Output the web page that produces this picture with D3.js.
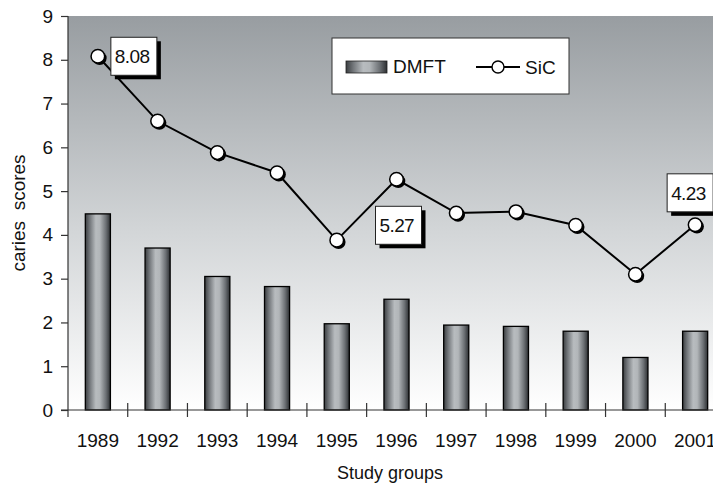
<!DOCTYPE html>
<html>
<head>
<meta charset="utf-8">
<script src="https://cdn.jsdelivr.net/npm/d3@7/dist/d3.min.js"></script>
<style>
  html, body { margin: 0; padding: 0; background: #ffffff; }
  svg { display: block; font-family: "Liberation Sans", Arial, sans-serif; }
</style>
</head>
<body>
<svg id="chart" width="713" height="488"></svg>
<script>
// Caries scores per study group
const years = ["1989", "1992", "1993", "1994", "1995", "1996", "1997", "1998", "1999", "2000", "2001"];
const dmft  = [4.48, 3.70, 3.05, 2.82, 1.97, 2.53, 1.94, 1.91, 1.80, 1.20, 1.80];
const sic   = [8.08, 6.60, 5.88, 5.42, 3.88, 5.27, 4.50, 4.53, 4.22, 3.10, 4.23];
const yTicks = [0, 1, 2, 3, 4, 5, 6, 7, 8, 9];
// Points whose value is written in a callout box
const labelled = ["1989", "1996", "2001"];

const svg = d3.select("#chart");
const plotL = 68, plotT = 16, plotB = 410, plotR = 725;

const x = d3.scaleBand().domain(years).range([plotL, plotR]).padding(0);
const y = d3.scaleLinear().domain([0, 9]).range([plotB, plotT]);

const defs = svg.append("defs");

// Plot background: grey at the top fading to white
const bg = defs.append("linearGradient").attr("id", "bg")
  .attr("x1", 0).attr("y1", 0).attr("x2", 0).attr("y2", 1);
bg.append("stop").attr("offset", "0%").attr("stop-color", "#989da1");
bg.append("stop").attr("offset", "55%").attr("stop-color", "#d3d6d8");
bg.append("stop").attr("offset", "100%").attr("stop-color", "#ffffff");

// Cylinder-like shading for the bars
const barGrad = defs.append("linearGradient").attr("id", "bar")
  .attr("x1", 0).attr("y1", 0).attr("x2", 1).attr("y2", 0);
[["0%", "#3a3d40"], ["18%", "#73777b"], ["42%", "#b8bcbf"], ["58%", "#b2b6b9"], ["82%", "#6d7175"], ["100%", "#2c2f32"]]
  .forEach(([o, c]) => barGrad.append("stop").attr("offset", o).attr("stop-color", c));

svg.append("rect")
  .attr("x", plotL).attr("y", plotT)
  .attr("width", plotR - plotL).attr("height", plotB - plotT)
  .attr("fill", "url(#bg)");

// Bars (DMFT)
const bw = x.bandwidth() * 0.42;
svg.append("g").selectAll("rect")
  .data(years.map((yr, i) => ({ yr, v: dmft[i] })))
  .join("rect")
  .attr("x", d => x(d.yr) + (x.bandwidth() - bw) / 2)
  .attr("y", d => y(d.v))
  .attr("width", bw)
  .attr("height", d => y(0) - y(d.v))
  .attr("fill", "url(#bar)")
  .attr("stroke", "#000")
  .attr("stroke-width", 1.3);

// Y axis
const yAxis = svg.append("g").attr("transform", `translate(${plotL},0)`)
  .call(d3.axisLeft(y).tickValues(yTicks).tickSize(7).tickPadding(8).tickFormat(d3.format("d")));
yAxis.select(".domain").attr("stroke", "#333").attr("stroke-width", 1.2).attr("d", `M0,${plotT}V${plotB + 7}`);
yAxis.selectAll(".tick line").attr("stroke", "#333").attr("stroke-width", 1.2);
yAxis.selectAll(".tick text").attr("font-size", 19).attr("fill", "#111")
  .attr("font-family", "Liberation Sans, Arial, sans-serif");

// X axis with ticks between categories
const xAxis = svg.append("g").attr("transform", `translate(0,${plotB})`);
xAxis.append("line").attr("x1", plotL - 7).attr("x2", plotR).attr("y1", 0).attr("y2", 0)
  .attr("stroke", "#333").attr("stroke-width", 1.2);
xAxis.selectAll("line.sep")
  .data(years.slice(1))
  .join("line").attr("class", "sep")
  .attr("x1", d => x(d)).attr("x2", d => x(d))
  .attr("y1", -7).attr("y2", 7)
  .attr("stroke", "#333").attr("stroke-width", 1.2);
xAxis.selectAll("text")
  .data(years)
  .join("text")
  .attr("x", d => x(d) + x.bandwidth() / 2)
  .attr("y", 37)
  .attr("text-anchor", "middle")
  .attr("font-size", 19)
  .attr("fill", "#111")
  .text(d => d);

// Axis titles
svg.append("text")
  .attr("x", 390).attr("y", 479)
  .attr("text-anchor", "middle")
  .attr("font-size", 18).attr("fill", "#111")
  .text("Study groups");
svg.append("text")
  .attr("transform", `translate(25,${(plotT + plotB) / 2}) rotate(-90)`)
  .attr("text-anchor", "middle")
  .attr("font-size", 19).attr("fill", "#111")
  .attr("xml:space", "preserve")
  .text("caries  scores");

// SiC line
const pts = years.map((yr, i) => ({ yr, v: sic[i], cx: x(yr) + x.bandwidth() / 2, cy: y(sic[i]) }));
svg.append("path")
  .datum(pts)
  .attr("fill", "none")
  .attr("stroke", "#000")
  .attr("stroke-width", 2)
  .attr("d", d3.line().x(d => d.cx).y(d => d.cy));

const markers = svg.append("g");
markers.selectAll("circle.shadow").data(pts).join("circle").attr("class", "shadow")
  .attr("cx", d => d.cx + 1.8).attr("cy", d => d.cy + 1.8).attr("r", 7).attr("fill", "#000");
markers.selectAll("circle.dot").data(pts).join("circle").attr("class", "dot")
  .attr("cx", d => d.cx).attr("cy", d => d.cy).attr("r", 6.8)
  .attr("fill", "#fff").attr("stroke", "#000").attr("stroke-width", 1.5);

// Value callouts with drop shadow
const boxOffset = { "1989": [13, -19], "1996": [-21, 27], "2001": [-28, -51] };
const bwBox = 46, bhBox = 38;
const callouts = svg.append("g").selectAll("g")
  .data(pts.filter(d => labelled.includes(d.yr)))
  .join("g")
  .attr("transform", d => `translate(${d.cx + boxOffset[d.yr][0]},${d.cy + boxOffset[d.yr][1]})`);
callouts.append("rect").attr("x", 4).attr("y", 4).attr("width", bwBox).attr("height", bhBox).attr("fill", "#000");
callouts.append("rect").attr("width", bwBox).attr("height", bhBox)
  .attr("fill", "#fff").attr("stroke", "#222").attr("stroke-width", 1);
callouts.append("text")
  .attr("x", 4).attr("y", 26)
  .attr("font-size", 19).attr("fill", "#111")
  .attr("letter-spacing", -0.6)
  .text(d => d.v.toFixed(2));

// Legend
const lg = svg.append("g").attr("transform", "translate(332,38)");
lg.append("rect").attr("width", 237).attr("height", 56)
  .attr("fill", "#fff").attr("stroke", "#333").attr("stroke-width", 1);
lg.append("rect").attr("x", 14).attr("y", 23).attr("width", 41).attr("height", 12)
  .attr("fill", "url(#bar)").attr("stroke", "#222").attr("stroke-width", 0.8);
lg.append("text").attr("x", 61).attr("y", 35).attr("font-size", 19).attr("fill", "#111").text("DMFT");
lg.append("line").attr("x1", 144).attr("x2", 188).attr("y1", 29).attr("y2", 29)
  .attr("stroke", "#000").attr("stroke-width", 2);
lg.append("circle").attr("cx", 166).attr("cy", 29).attr("r", 6)
  .attr("fill", "#fff").attr("stroke", "#000").attr("stroke-width", 1.4);
lg.append("text").attr("x", 193).attr("y", 36).attr("font-size", 19).attr("fill", "#111").text("SiC");
</script>
</body>
</html>
